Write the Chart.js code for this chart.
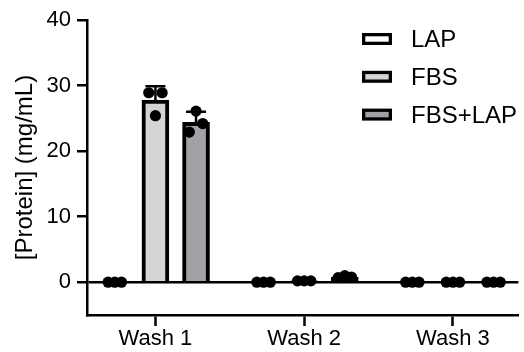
<!DOCTYPE html>
<html>
<head>
<meta charset="utf-8">
<script src="https://cdn.jsdelivr.net/npm/chart.js@4.4.1/dist/chart.umd.min.js"></script>
<style>
  html, body { margin: 0; padding: 0; background: #fff; }
  #chart { display: block; }
</style>
</head>
<body>
<canvas id="chart" width="524" height="352"></canvas>
<script>
const categories = ["Wash 1", "Wash 2", "Wash 3"];
const seriesNames = ["LAP", "FBS", "FBS+LAP"];

// bar heights (means)
const lapMean = [0, 0, 0];
const fbsMean = [27.8, 0.2, 0];
const fbsLapMean = [24.4, 0.8, 0];

// SD, drawn upward only
const lapSd = [0, 0, 0];
const fbsSd = [2.1, 0.1, 0];
const fbsLapSd = [1.6, 0.2, 0];

// replicates per wash: left, middle, right dot
const lapPoints = [[0, 0, 0], [0, 0, 0], [0, 0, 0]];
const fbsPoints = [[28.9, 25.4, 28.9], [0.2, 0.2, 0.2], [0, 0, 0]];
const fbsLapPoints = [[22.9, 26.1, 24.2], [0.7, 1.0, 0.8], [0, 0, 0]];

const yTicks = [0, 10, 20, 30, 40];

// layout only
const groupOffset = [-0.273, 0, 0.273];
const dotSpread = [-0.045, 0, 0.045];
const fills = ["#ffffff", "#d4d4d4", "#a2a2a6"];

Chart.defaults.font.family = "'Liberation Sans', Arial, sans-serif";
Chart.defaults.color = "#000";

const means = [lapMean, fbsMean, fbsLapMean];
const sds = [lapSd, fbsSd, fbsLapSd];
const points = [lapPoints, fbsPoints, fbsLapPoints];

const barSets = means.map((m, s) => ({
    type: "bar",
    label: seriesNames[s],
    data: m.map((v, i) => ({ x: i + 1 + groupOffset[s], y: v })),
    sd: sds[s],
    backgroundColor: fills[s],
    borderColor: "#000",
    borderWidth: 4,
    barThickness: 27,
    grouped: false,
    order: 2
}));

const dotSets = points.map((p, s) => ({
    type: "scatter",
    label: seriesNames[s] + " points",
    data: p.flatMap((reps, i) => reps.map((v, k) => ({ x: i + 1 + groupOffset[s] + dotSpread[k], y: v }))),
    backgroundColor: "#000",
    borderWidth: 0,
    pointRadius: 5.6,
    order: 0
}));

const errorBars = {
    id: "errorBars",
    afterDatasetDraw(chart, args) {
        const ds = chart.data.datasets[args.index];
        if (!ds.sd) return;
        const ctx = chart.ctx;
        const y = chart.scales.y;
        ctx.save();
        ctx.strokeStyle = "#000";
        ctx.lineWidth = 2.5;
        args.meta.data.forEach((bar, i) => {
            const sd = ds.sd[i];
            if (!sd) return;
            const top = y.getPixelForValue(ds.data[i].y + sd);
            ctx.beginPath();
            ctx.moveTo(bar.x, bar.y);
            ctx.lineTo(bar.x, top);
            ctx.moveTo(bar.x - 10, top);
            ctx.lineTo(bar.x + 10, top);
            ctx.stroke();
        });
        ctx.restore();
    }
};

const boxLegend = {
    id: "boxLegend",
    afterDraw(chart) {
        const ctx = chart.ctx;
        ctx.save();
        ctx.font = "24px 'Liberation Sans', Arial, sans-serif";
        ctx.textBaseline = "middle";
        chart.data.datasets.filter(d => d.type === "bar").forEach((d, i) => {
            const cy = 39 + i * 37.8;
            ctx.fillStyle = "#000";
            ctx.fillRect(362, cy - 6, 30, 12);
            ctx.fillStyle = d.backgroundColor;
            ctx.fillRect(365.3, cy - 2.7, 23.4, 5.4);
            ctx.fillStyle = "#000";
            ctx.fillText(d.label, 411, cy + 1.5);
        });
        ctx.restore();
    }
};

new Chart(document.getElementById("chart"), {
    type: "bar",
    data: { datasets: [...barSets, ...dotSets] },
    options: {
        responsive: false,
        animation: false,
        layout: { padding: { top: 20, right: 1, left: 0, bottom: 0 } },
        plugins: { legend: { display: false }, tooltip: { enabled: false } },
        scales: {
            x: {
                type: "linear",
                offset: false,
                min: 0.54,
                max: 3.44,
                afterBuildTicks: s => { s.ticks = categories.map((c, i) => ({ value: i + 1 })); },
                afterFit: s => { s.height = 37; },
                ticks: {
                    callback: v => categories[v - 1],
                    font: { size: 22 },
                    padding: 0,
                    maxRotation: 0,
                    autoSkip: false
                },
                grid: { offset: false, drawOnChartArea: false, tickLength: 11, tickColor: "#000", tickWidth: 2.5 },
                border: { color: "#000", width: 2.5 }
            },
            y: {
                min: -5,
                max: 40,
                afterBuildTicks: s => { s.ticks = yTicks.map(v => ({ value: v })); },
                afterFit: s => { s.width = 87; },
                ticks: { font: { size: 22 }, padding: 6 },
                grid: {
                    color: c => (c.tick && c.tick.value === 0 ? "#000" : "rgba(0,0,0,0)"),
                    lineWidth: 2.5,
                    tickColor: "#000",
                    tickLength: 10,
                    tickWidth: 2.5
                },
                border: { color: "#000", width: 2.5 },
                title: {
                    display: true,
                    text: "[Protein] (mg/mL)",
                    font: { size: 24 },
                    padding: { top: 11, bottom: 0 }
                }
            }
        }
    },
    plugins: [errorBars, boxLegend]
});
</script>
</body>
</html>
